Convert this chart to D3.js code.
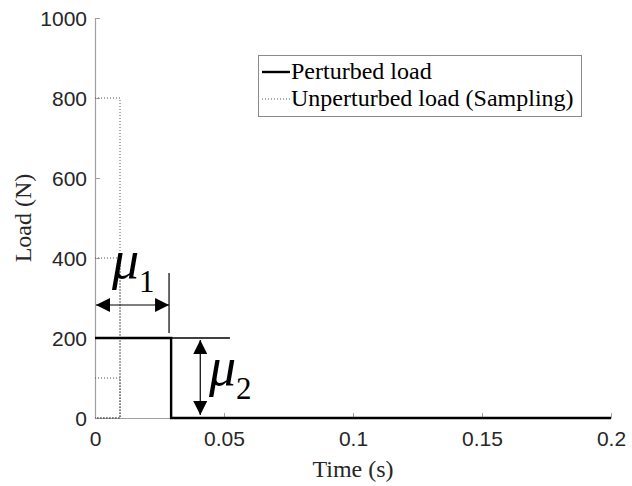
<!DOCTYPE html>
<html>
<head>
<meta charset="utf-8">
<script src="https://cdn.jsdelivr.net/npm/d3@7"></script>
<style>
  body { margin: 0; background: #fff; }
  svg { display: block; }
</style>
</head>
<body>
<div id="chart"></div>
<script>
const width = 632;
const height = 486;

// data
const perturbedT = [0, 0.0295, 0.0295, 0.2];
const perturbedLoad = [200, 200, 0, 0];
const sampleLoads = [800, 400, 100];
const sampleT = 0.0097;
const mu1Span = [0, 0.0287];   // horizontal arrow
const mu2Span = [200, 0];      // vertical arrow
const mu2T = 0.0408;
const refLineEndT = 0.0523;

const xTicks = [0, 0.05, 0.1, 0.15, 0.2];
const xTickLabels = ['0', '0.05', '0.1', '0.15', '0.2'];
const yTicks = [0, 200, 400, 600, 800, 1000];

const margin = { left: 95, right: 21, top: 18, bottom: 68 };

const svg = d3.select('#chart')
  .append('svg')
  .attr('width', width)
  .attr('height', height);

const x = d3.scaleLinear().domain([0, 0.2]).range([margin.left, width - margin.right]);
const y = d3.scaleLinear().domain([0, 1000]).range([height - margin.bottom, margin.top]);

const tickFont = '"Liberation Sans", Arial, sans-serif';
const serif = '"Liberation Serif", "Times New Roman", serif';

// axes (ticks pointing inward, matlab style)
const xAxis = svg.append('g')
  .attr('transform', `translate(0,${y(0)})`)
  .call(d3.axisBottom(x).tickValues(xTicks).tickFormat((d, i) => xTickLabels[i]).tickSizeInner(-5).tickSizeOuter(0).tickPadding(13));
const yAxis = svg.append('g')
  .attr('transform', `translate(${x(0)},0)`)
  .call(d3.axisLeft(y).tickValues(yTicks).tickFormat(d3.format('d')).tickSizeInner(-5).tickSizeOuter(0).tickPadding(8));

[xAxis, yAxis].forEach(g => {
  g.attr('font-size', null).attr('font-family', null);
  g.select('.domain').attr('stroke', '#a0a0a0').attr('stroke-width', 1.2);
  g.selectAll('.tick line').attr('stroke', '#a0a0a0');
  g.selectAll('.tick text').attr('fill', '#262626').style('font-family', tickFont).style('font-size', '21px');
});
yAxis.selectAll('.tick text').attr('dy', '0.35em');

// sampling (dotted)
const line = d3.line().x(d => x(d[0])).y(d => y(d[1]));
sampleLoads.forEach(v => {
  svg.append('path')
    .attr('d', line([[0, v], [sampleT, v], [sampleT, 0], [0, 0]]))
    .attr('fill', 'none')
    .attr('stroke', '#555')
    .attr('stroke-width', 1)
    .attr('stroke-dasharray', '1,2');
});

// perturbed load
svg.append('path')
  .attr('d', line(perturbedT.map((t, i) => [t, perturbedLoad[i]])))
  .attr('fill', 'none')
  .attr('stroke', '#000')
  .attr('stroke-width', 2.4);

// annotations
const defs = svg.append('defs');
defs.append('marker')
  .attr('id', 'ah')
  .attr('viewBox', '0 0 10 10')
  .attr('refX', 10).attr('refY', 5)
  .attr('markerWidth', 15).attr('markerHeight', 14)
  .attr('markerUnits', 'userSpaceOnUse')
  .attr('orient', 'auto-start-reverse')
  .append('path').attr('d', 'M0,0 L10,5 L0,10 Z').attr('fill', '#000');

svg.append('line')
  .attr('x1', x(mu1Span[1])).attr('x2', x(mu1Span[1]))
  .attr('y1', 273).attr('y2', y(200) - 5)
  .attr('stroke', '#000').attr('stroke-width', 1.2);
svg.append('line')
  .attr('x1', x(perturbedT[1])).attr('x2', x(refLineEndT))
  .attr('y1', y(200)).attr('y2', y(200))
  .attr('stroke', '#000').attr('stroke-width', 1.3);

svg.append('line')
  .attr('x1', x(mu1Span[0]) + 1).attr('x2', x(mu1Span[1]))
  .attr('y1', 305).attr('y2', 305)
  .attr('stroke', '#000').attr('stroke-width', 1.2)
  .attr('marker-start', 'url(#ah)').attr('marker-end', 'url(#ah)');
svg.append('line')
  .attr('x1', x(mu2T)).attr('x2', x(mu2T))
  .attr('y1', y(mu2Span[0]) + 2).attr('y2', y(mu2Span[1]) - 3)
  .attr('stroke', '#000').attr('stroke-width', 1.2)
  .attr('marker-start', 'url(#ah)').attr('marker-end', 'url(#ah)');

function muLabel(px, py, sub) {
  const t = svg.append('text')
    .attr('x', px).attr('y', py)
    .style('font-family', serif)
    .attr('fill', '#000');
  t.append('tspan').text('\u03bc').style('font-style', 'italic').style('font-size', '54px');
  t.append('tspan').text(sub).attr('dx', 0).attr('dy', 14).style('font-size', '31px');
}
muLabel(112, 278, '1');
muLabel(209, 385, '2');

// axis labels
svg.append('text')
  .attr('x', 353).attr('y', 477)
  .attr('text-anchor', 'middle')
  .style('font-family', serif).style('font-size', '24px')
  .attr('fill', '#262626')
  .text('Time (s)');
svg.append('text')
  .attr('transform', `translate(31,218) rotate(-90)`)
  .attr('text-anchor', 'middle')
  .style('font-family', serif).style('font-size', '24px')
  .attr('fill', '#262626')
  .text('Load (N)');

// legend
const legend = svg.append('g');
legend.append('rect')
  .attr('x', 258.5).attr('y', 55.5).attr('width', 323).attr('height', 61)
  .attr('fill', '#fff').attr('stroke', '#8a8a8a').attr('stroke-width', 1);
const legendItems = [
  { label: 'Perturbed load', width: 2.4, dash: null, color: '#000' },
  { label: 'Unperturbed load (Sampling)', width: 1, dash: '1,2', color: '#555' }
];
legendItems.forEach((d, i) => {
  const ly = 72 + i * 27;
  legend.append('line')
    .attr('x1', 262).attr('x2', 290).attr('y1', ly).attr('y2', ly)
    .attr('stroke', d.color).attr('stroke-width', d.width)
    .attr('stroke-dasharray', d.dash);
  legend.append('text')
    .attr('x', 291).attr('y', ly + 7)
    .style('font-family', serif).style('font-size', '24px')
    .attr('fill', '#000')
    .text(d.label);
});
</script>
</body>
</html>
